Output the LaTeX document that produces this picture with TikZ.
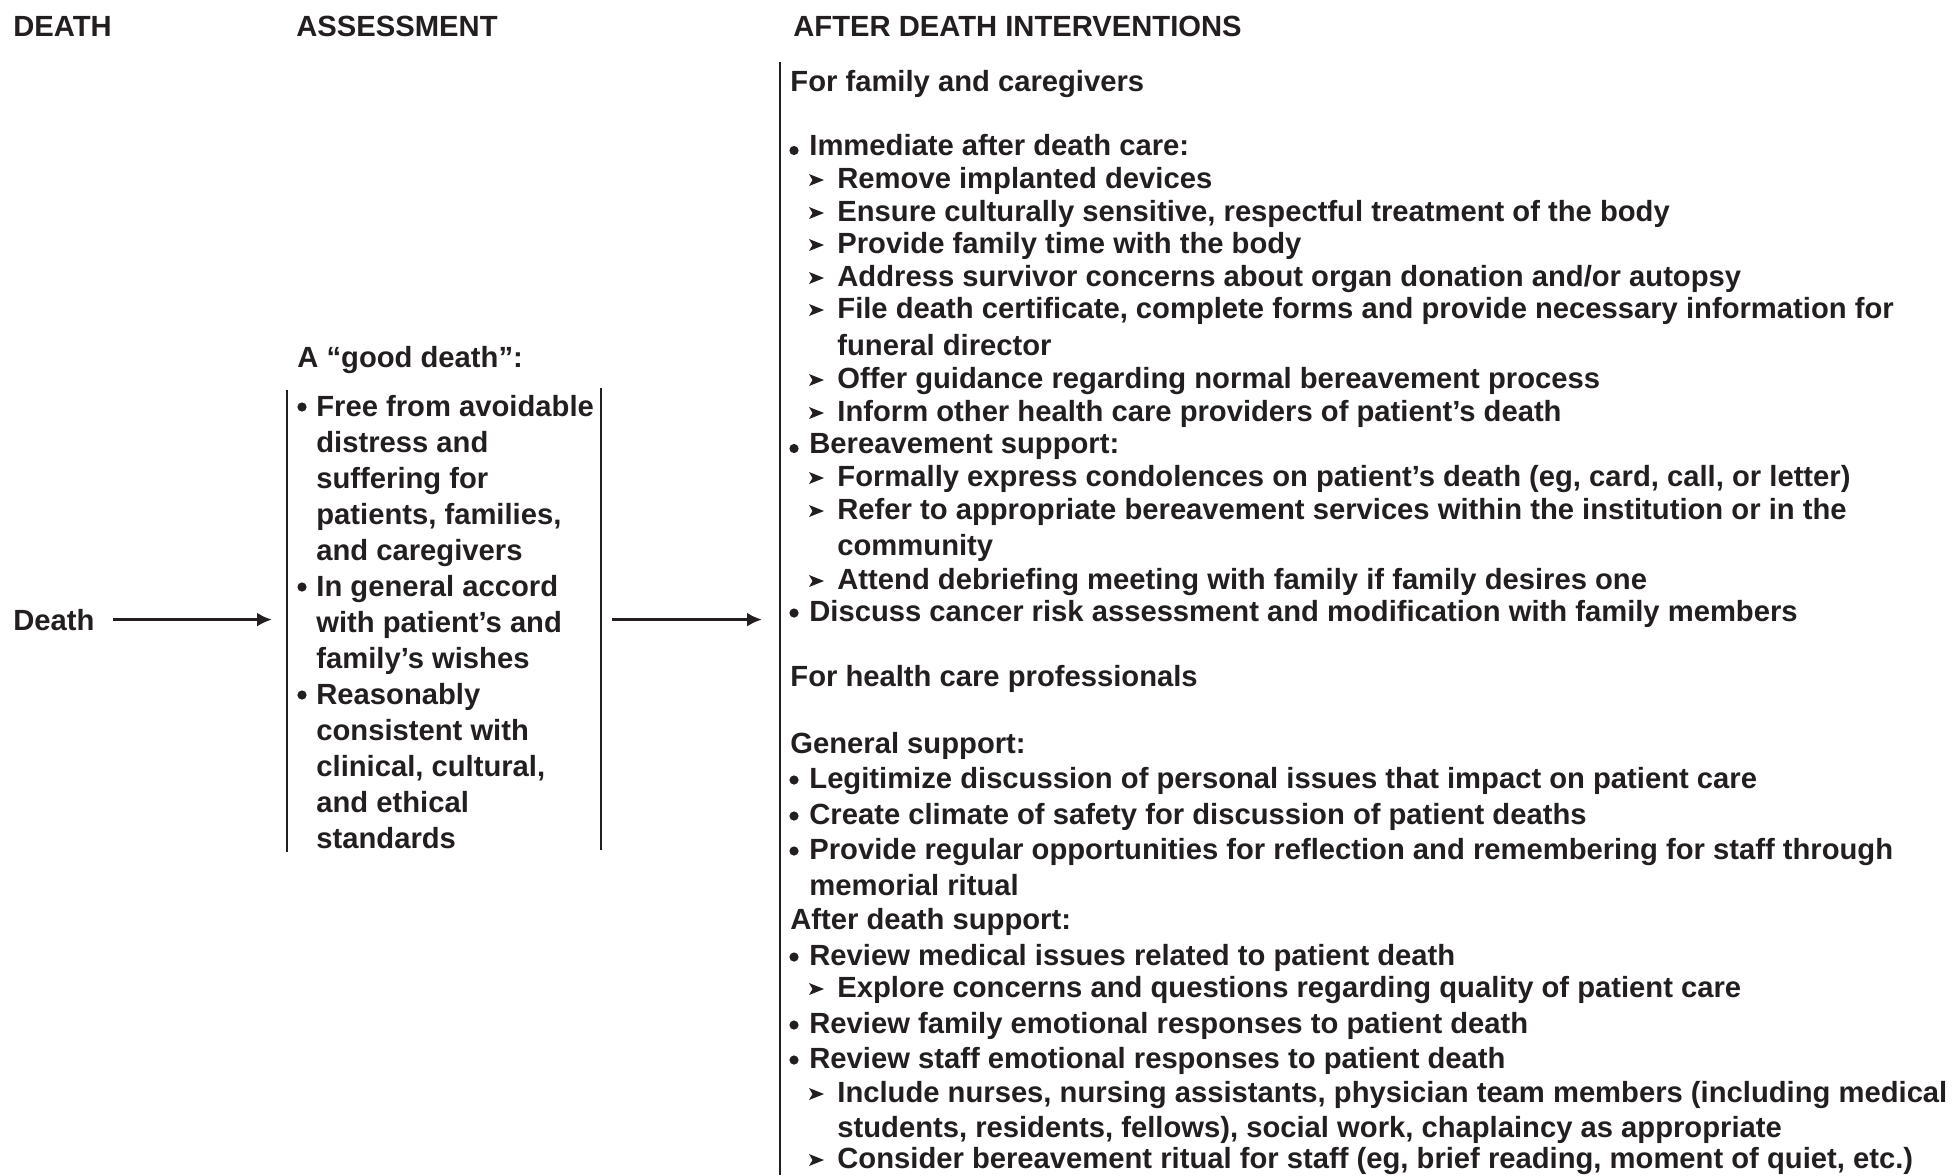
\documentclass[tikz,border=0pt]{standalone}
\usepackage{fontspec}
\setmainfont{Liberation Sans}
\usetikzlibrary{arrows.meta}
\definecolor{ink}{HTML}{231F20}
\tikzset{
  txt/.style={anchor=base west, inner sep=0pt, text=ink, font=\fontsize{14.6pt}{17pt}\selectfont\bfseries},
  rule/.style={ink, line width=1.2pt},
  arr/.style={ink, line width=1.4pt, -{Latex[length=7.5pt,width=7pt]}},
  subarr/.pic={\fill[ink] (0,-6) -- (15,0) -- (0,6) -- (3.5,0) -- cycle;},
}
\begin{document}
\begin{tikzpicture}[x=0.5pt,y=-0.5pt]
  \useasboundingbox (0,0) rectangle (1957,1175);
  % column heads
  \node[txt] (hdeath) at (13,36) {DEATH};
  \node[txt] (hassess) at (296,36) {ASSESSMENT};
  \node[txt] (hafter) at (793,36) {AFTER DEATH INTERVENTIONS};
  % death
  \node[txt] (death) at (13,630) {Death};
  % assessment
  \node[txt] (good) at (297,367) {A “good death”:};
  \node[txt] (l1) at (316,416) {Free from avoidable};
  \node[txt] (l2) at (316,452) {distress and};
  \node[txt] (l3) at (316,488) {suffering for};
  \node[txt] (l4) at (316,524) {patients, families,};
  \node[txt] (l5) at (316,560) {and caregivers};
  \node[txt] (l6) at (316,596) {In general accord};
  \node[txt] (l7) at (316,632) {with patient’s and};
  \node[txt] (l8) at (316,668) {family’s wishes};
  \node[txt] (l9) at (316,704) {Reasonably};
  \node[txt] (l10) at (316,740) {consistent with};
  \node[txt] (l11) at (316,776) {clinical, cultural,};
  \node[txt] (l12) at (316,812) {and ethical};
  \node[txt] (l13) at (316,848) {standards};
  \foreach \y in {416,596,704}
    \fill[ink] (302,\y-9) circle[radius=2.3pt];
  \coordinate (boxnw) at (287,390);
  \coordinate (boxsw) at (287,852);
  \coordinate (boxne) at (601,388);
  \coordinate (boxse) at (601,850);
  \draw[rule] (boxnw) -- (boxsw);
  \draw[rule] (boxne) -- (boxse);
  % after death interventions
  \coordinate (colnw) at (780,62);
  \coordinate (colsw) at (780,1175);
  \draw[rule] (colnw) -- (colsw);
  \node[txt] (r1) at (790,91) {For family and caregivers};
  \node[txt] (r2) at (809,155) {Immediate after death care:};
  \node[txt] (r3) at (837,188) {Remove implanted devices};
  \node[txt] (r4) at (837,221) {Ensure culturally sensitive, respectful treatment of the body};
  \node[txt] (r5) at (837,253) {Provide family time with the body};
  \node[txt] (r6) at (837,286) {Address survivor concerns about organ donation and/or autopsy};
  \node[txt] (r7) at (837,318) {File death certificate, complete forms and provide necessary information for};
  \node[txt] (r8) at (837,355) {funeral director};
  \node[txt] (r9) at (837,388) {Offer guidance regarding normal bereavement process};
  \node[txt] (r10) at (837,421) {Inform other health care providers of patient’s death};
  \node[txt] (r11) at (809,453) {Bereavement support:};
  \node[txt] (r12) at (837,486) {Formally express condolences on patient’s death (eg, card, call, or letter)};
  \node[txt] (r13) at (837,519) {Refer to appropriate bereavement services within the institution or in the};
  \node[txt] (r14) at (837,555) {community};
  \node[txt] (r15) at (837,589) {Attend debriefing meeting with family if family desires one};
  \node[txt] (r16) at (809,621) {Discuss cancer risk assessment and modification with family members};
  \node[txt] (r17) at (790,686) {For health care professionals};
  \node[txt] (r18) at (790,753) {General support:};
  \node[txt] (r19) at (809,788) {Legitimize discussion of personal issues that impact on patient care};
  \node[txt] (r20) at (809,824) {Create climate of safety for discussion of patient deaths};
  \node[txt] (r21) at (809,859) {Provide regular opportunities for reflection and remembering for staff through};
  \node[txt] (r22) at (809,895) {memorial ritual};
  \node[txt] (r23) at (790,929) {After death support:};
  \node[txt] (r24) at (809,965) {Review medical issues related to patient death};
  \node[txt] (r25) at (837,997) {Explore concerns and questions regarding quality of patient care};
  \node[txt] (r26) at (809,1033) {Review family emotional responses to patient death};
  \node[txt] (r27) at (809,1068) {Review staff emotional responses to patient death};
  \node[txt] (r28) at (837,1102) {Include nurses, nursing assistants, physician team members (including medical};
  \node[txt] (r29) at (837,1137) {students, residents, fellows), social work, chaplaincy as appropriate};
  \node[txt] (r30) at (837,1168) {Consider bereavement ritual for staff (eg, brief reading, moment of quiet, etc.)};
  % bullets and sub-bullets
  \foreach \y in {155,453}
    \fill[ink] (794,\y-4.5) circle[radius=2.3pt];
  \foreach \y in {621,788,824,859,965,1033,1068}
    \fill[ink] (794,\y-8) circle[radius=2.3pt];
  \foreach \y in {188,221,253,286,318,388,421,486,519,589,997,1102,1168}
    \pic at (809,\y-8) {subarr};
  % arrows
  \draw[arr, shorten <=9pt, shorten >=7.5pt] (death.east) -- (death.east -| boxnw);
  \draw[arr, shorten <=5.5pt, shorten >=9pt] (death.east -| boxne) -- (death.east -| colnw);
\end{tikzpicture}
\end{document}
